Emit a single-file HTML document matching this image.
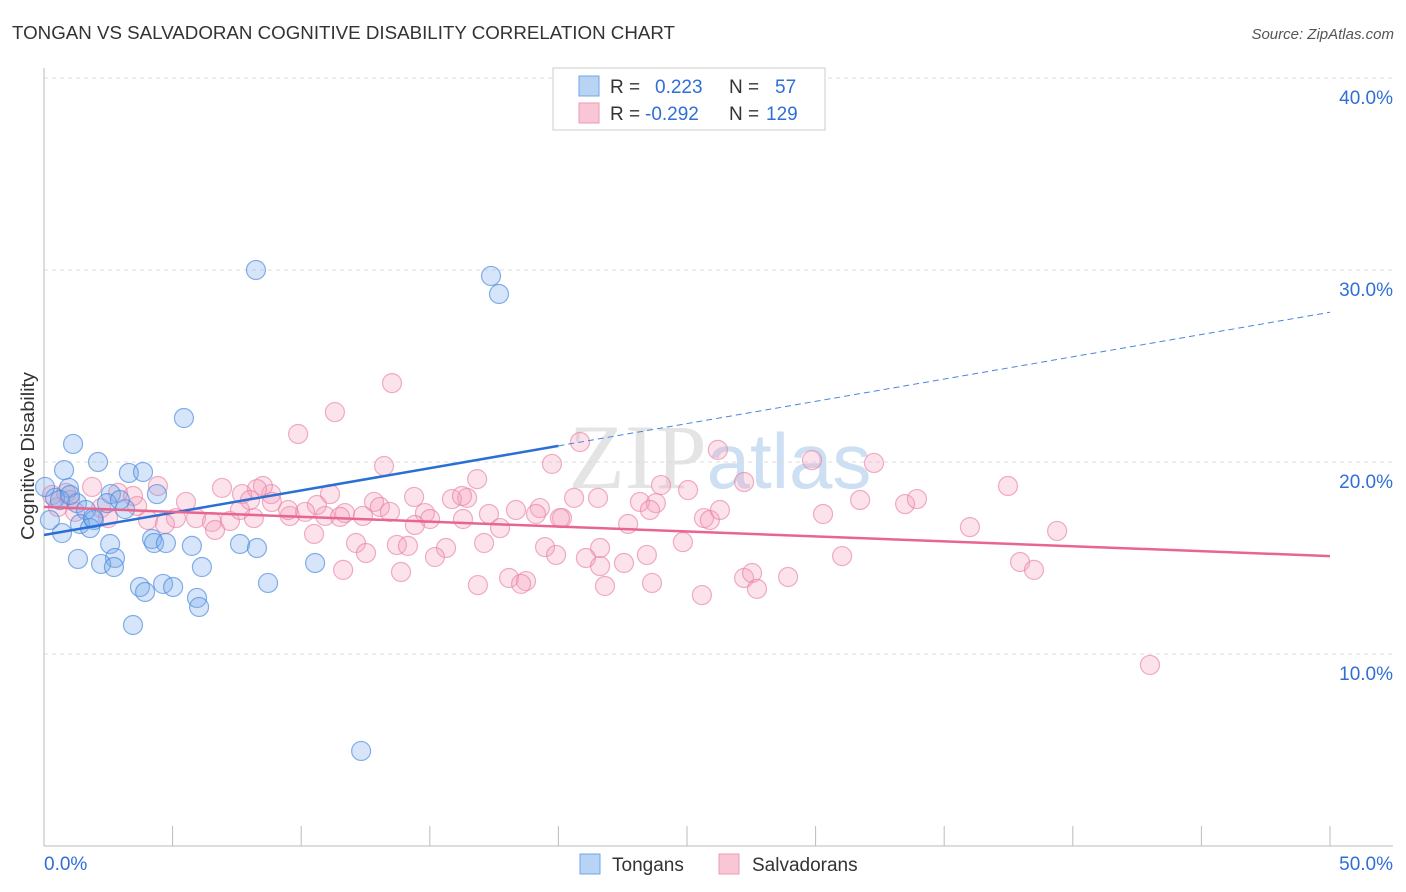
<!DOCTYPE html>
<html><head><meta charset="utf-8"><style>
body{margin:0;background:#fff;font-family:"Liberation Sans",sans-serif}
</style></head><body>
<svg width="1406" height="892" id="chart" xmlns="http://www.w3.org/2000/svg" style="display:block;font-family:'Liberation Sans',sans-serif">
<text x="12" y="39" font-size="18" fill="#333" textLength="663" lengthAdjust="spacingAndGlyphs">TONGAN VS SALVADORAN COGNITIVE DISABILITY CORRELATION CHART</text>
<text x="1394" y="39" font-size="15" fill="#555" font-style="italic" text-anchor="end">Source: ZipAtlas.com</text>
<text x="720" y="488" font-size="92" fill="#e4e4e4" text-anchor="middle" font-family="Liberation Serif,serif">ZIP<tspan fill="#cddff2" font-family="Liberation Sans,sans-serif" font-size="78">atlas</tspan></text>
<text transform="translate(34,456) rotate(-90)" font-size="18" fill="#333" text-anchor="middle" textLength="168" lengthAdjust="spacingAndGlyphs">Cognitive Disability</text>
<g id="grid"></g><g id="pts"></g><g id="lines"></g>
<g>
<rect x="553" y="68" width="272" height="62" fill="#fff" stroke="#ccc"/>
<rect x="579" y="76" width="20" height="20" fill="#b8d3f3" stroke="#6fa5e5"/>
<rect x="579" y="103" width="20" height="20" fill="#f9c6d6" stroke="#ee9ab6"/>
<text x="610" y="93" font-size="19" fill="#333">R = <tspan x="655" fill="#2f6fd6">0.223</tspan><tspan x="729" fill="#333">N =</tspan><tspan x="775" fill="#2f6fd6">57</tspan></text>
<text x="610" y="120" font-size="19" fill="#333">R = <tspan x="645" fill="#2f6fd6">-0.292</tspan><tspan x="729" fill="#333">N =</tspan><tspan x="766" fill="#2f6fd6">129</tspan></text>
</g>
<rect x="580" y="854" width="20" height="20" fill="#b8d3f3" stroke="#6fa5e5"/>
<text x="612" y="871" font-size="19" fill="#333">Tongans</text>
<rect x="719" y="854" width="20" height="20" fill="#f9c6d6" stroke="#ee9ab6"/>
<text x="752" y="871" font-size="19" fill="#333">Salvadorans</text>
</svg>
<script>
const yTicks=[10,20,30,40];
const yTickLabels=["10.0%","20.0%","30.0%","40.0%"];
const xTicks=[0,5,10,15,20,25,30,35,40,45,50];
const tonganX=[8.24,17.38,17.69,5.44,1.13,2.10,0.78,3.30,3.85,0.97,4.39,0.43,2.60,2.45,1.28,1.63,3.15,1.94,1.40,1.79,0.70,4.20,4.28,2.57,4.74,5.75,7.62,8.28,1.32,2.76,2.22,2.72,6.14,10.54,3.73,4.63,3.93,5.02,8.71,5.95,6.03,3.46,12.33,0.04,0.23,0.62,1.01,1.91,2.95];
const tonganY=[30.0,29.69,28.75,22.29,20.94,20.0,19.58,19.43,19.48,18.65,18.33,18.13,18.33,17.86,17.86,17.5,17.55,16.98,16.77,16.56,16.30,15.99,15.78,15.73,15.78,15.63,15.73,15.52,14.95,15.0,14.69,14.53,14.53,14.74,13.49,13.65,13.23,13.49,13.70,12.92,12.45,11.51,4.95,18.7,16.98,18.02,18.28,17.08,18.02];
const salvX=[13.53,11.31,9.88,13.22,19.75,20.84,26.2,29.86,32.27,37.48,16.84,27.22,25.04,23.99,23.17,23.79,21.54,20.61,18.35,19.28,20.14,16.45,15.86,16.25,14.39,12.83,13.06,11.12,10.61,8.83,8.51,8.28,6.92,7.70,4.43,5.52,2.88,1.87,1.01,0.54,0.86,0.31,1.21,2.22,3.62,4.04,5.13,5.91,6.53,7.23,8.16,9.56,10.15,10.93,11.7,12.4,14.81,15.01,16.29,17.3,17.73,19.13,20.06,21.62,22.71,25.66,25.89,30.29,33.48,33.94,36.0,39.39,12.13,12.52,13.72,14.15,15.63,15.2,17.11,19.48,19.91,21.07,21.62,22.55,23.44,24.84,11.63,13.88,16.87,18.08,18.74,18.55,21.81,23.64,25.58,27.22,27.53,27.72,28.93,31.03,37.95,38.49,43.0,10.5,6.65,4.7,2.49,3.46,7.62,8.01,8.86,9.49,11.51,13.45,14.42,23.56,26.28,31.73];
const salvY=[24.11,22.6,21.46,19.79,19.9,21.04,20.63,20.1,19.95,18.75,19.11,18.96,18.54,18.8,17.92,17.86,18.13,18.13,17.5,17.6,17.08,18.13,18.07,18.23,18.18,17.92,17.66,18.33,17.76,18.33,18.75,18.59,18.65,18.33,18.75,17.92,18.39,18.7,18.02,17.66,18.39,18.28,17.4,17.6,17.71,16.98,17.08,17.08,16.88,16.93,17.08,17.19,17.4,17.19,17.34,17.19,17.34,17.03,17.03,17.29,16.56,17.29,17.08,15.52,16.77,17.08,16.98,17.29,17.81,18.07,16.61,16.41,15.78,15.26,15.68,15.63,15.52,15.05,15.78,15.57,15.16,15.0,14.58,14.74,15.16,15.83,14.38,14.27,13.59,13.96,13.8,13.65,13.54,13.70,13.07,13.96,14.22,13.39,14.01,15.1,14.79,14.38,9.43,16.25,16.46,16.77,17.08,18.23,17.5,18.02,17.92,17.5,17.14,17.4,16.72,17.5,17.5,18.02];
const tonganTrend=[16.2,27.8];
const salvTrend=[17.66,15.1];
const tonganSolidEnd=20;

const NS="http://www.w3.org/2000/svg";
const X0=44,X1=1330,YB=846,PXU=19.2;
const sx=v=>X0+(v/50)*(X1-X0);
const sy=v=>YB-v*PXU;
function mk(tag,attrs,parent){const e=document.createElementNS(NS,tag);for(const k in attrs)e.setAttribute(k,attrs[k]);parent.appendChild(e);return e;}
const grid=document.getElementById('grid');
yTicks.forEach((t,i)=>{
  const l=mk('line',{x1:X0,x2:1393,y1:sy(t),y2:sy(t),stroke:'#ddd','stroke-dasharray':'4,4'},grid);
  
  
  const tx=mk('text',{x:1393,y:sy(t)+26,'font-size':19,fill:'#2f6fd6','text-anchor':'end'},grid);
  tx.textContent=yTickLabels[i];
  
  
});
const ax=mk('line',{x1:X0,x2:X0,y1:68,y2:YB,stroke:'#bbb'},grid);


const bx=mk('line',{x1:X0,x2:1393,y1:YB,y2:YB,stroke:'#bbb'},grid);


xTicks.forEach(t=>{
  const l=mk('line',{x1:sx(t),x2:sx(t),y1:826,y2:YB,stroke:'#bbb'},grid);
  
  
});
const xl0=mk('text',{x:44,y:870,'font-size':19,fill:'#2f6fd6'},grid);xl0.textContent='0.0%';


const xl1=mk('text',{x:1393,y:870,'font-size':19,fill:'#2f6fd6','text-anchor':'end'},grid);xl1.textContent='50.0%';


const pts=document.getElementById('pts');
salvX.forEach((x,i)=>{
  const c=mk('circle',{cx:sx(x),cy:sy(salvY[i]),r:9.5,fill:'rgba(244,160,188,0.3)',stroke:'rgba(232,130,165,0.65)','stroke-width':1.2},pts);
  
  
});
tonganX.forEach((x,i)=>{
  const c=mk('circle',{cx:sx(x),cy:sy(tonganY[i]),r:9.5,fill:'rgba(120,170,235,0.3)',stroke:'rgba(70,135,220,0.65)','stroke-width':1.2},pts);
  
  
});
const lines=document.getElementById('lines');
const tAt=x=>tonganTrend[0]+(tonganTrend[1]-tonganTrend[0])*x/50;
const l1=mk('line',{x1:sx(0),y1:sy(tAt(0)),x2:sx(tonganSolidEnd),y2:sy(tAt(tonganSolidEnd)),stroke:'#2a6fd6','stroke-width':2.5},lines);


const l2=mk('line',{x1:sx(tonganSolidEnd),y1:sy(tAt(tonganSolidEnd)),x2:sx(50),y2:sy(tAt(50)),stroke:'#4a86dc','stroke-width':1,'stroke-dasharray':'6,4'},lines);


const l3=mk('line',{x1:sx(0),y1:sy(salvTrend[0]),x2:sx(50),y2:sy(salvTrend[1]),stroke:'#e8658f','stroke-width':2.5},lines);


</script>
</body></html>
